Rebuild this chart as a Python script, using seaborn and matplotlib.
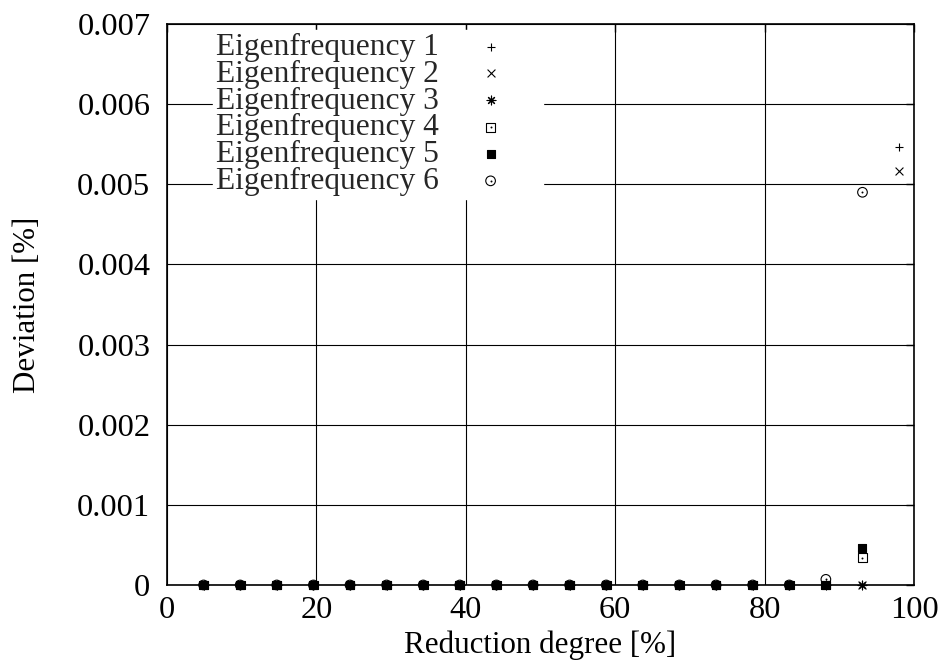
import numpy as np
import matplotlib
matplotlib.use("Agg")
import matplotlib.pyplot as plt
import seaborn as sns
import pandas as pd
from matplotlib.legend_handler import HandlerTuple

# reduction degree [%]
reduction = [4.9, 9.8, 14.7, 19.6, 24.5, 29.4, 34.3, 39.2, 44.1, 49.0,
             53.9, 58.8, 63.7, 68.6, 73.5, 78.4, 83.3, 88.2, 93.1, 98.0]

nan = np.nan
zeros17 = [0.0] * 17
ef1 = zeros17 + [0.0, 0.0, 0.00546]
ef2 = zeros17 + [0.0, 0.0, 0.00517]
ef3 = zeros17 + [0.0, 0.0, nan]
ef4 = zeros17 + [0.0, 0.00034, nan]
ef5 = zeros17 + [0.0, 0.00046, nan]
ef6 = zeros17 + [0.00007, 0.0049, nan]

labels = ["Eigenfrequency 1", "Eigenfrequency 2", "Eigenfrequency 3",
          "Eigenfrequency 4", "Eigenfrequency 5", "Eigenfrequency 6"]
series = [ef1, ef2, ef3, ef4, ef5, ef6]

x_ticks = [0, 20, 40, 60, 80, 100]
y_ticks = [0, 0.001, 0.002, 0.003, 0.004, 0.005, 0.006, 0.007]
y_tick_labels = ["0", "0.001", "0.002", "0.003", "0.004", "0.005", "0.006", "0.007"]

sns.set_theme(style="white")
plt.rcParams['font.family'] = ['Liberation Serif', 'DejaVu Serif']

fig = plt.figure(figsize=(9.46, 6.68), dpi=100)
ax = fig.add_axes([0.1765, 0.1243, 0.7897, 0.8398])

# marker styles (gnuplot-like point types)
styles = [
    dict(marker="+", s=40, linewidths=0.8),
    dict(marker="x", s=32, linewidths=0.8),
    dict(marker=(8, 2, 0), s=40, linewidths=0.8),
    dict(marker="s", s=40, linewidths=0.8, facecolor="none"),
    dict(marker="s", s=40, linewidths=0.8),
    dict(marker="o", s=48, linewidths=0.8, facecolor="none"),
]
has_dot = [False, False, False, True, False, True]

handles = []
for lab, vals, st, dot in zip(labels, series, styles, has_dot):
    df = pd.DataFrame({"x": reduction, "y": vals}).dropna()
    n0 = len(ax.collections)
    sns.scatterplot(data=df, x="x", y="y", color="black", edgecolor="black",
                    clip_on=False, zorder=5, ax=ax, **st)
    h = ax.collections[n0]
    if dot:
        sns.scatterplot(data=df, x="x", y="y", color="black", edgecolor="black",
                        marker="o", s=2, linewidths=0, clip_on=False, zorder=5, ax=ax)
        h = (h, ax.collections[n0 + 1])
    handles.append(h)

ax.set_xlim(0, 100)
ax.set_ylim(0, 0.007)
ax.set_xticks(x_ticks)
ax.set_xticklabels([str(t) for t in x_ticks])
ax.set_yticks(y_ticks)
ax.set_yticklabels(y_tick_labels)
ax.tick_params(direction="in", length=6, width=1, labelsize=23.3, top=True, right=True,
               colors="black")
ax.tick_params(axis="y", pad=12)
ax.tick_params(axis="x", pad=8)
ax.grid(True, color="black", linewidth=0.8)
for sp in ax.spines.values():
    sp.set_color("black")
    sp.set_linewidth(1.2)

ax.set_xlabel("Reduction degree [%]", fontsize=22.3, color="black", labelpad=4)
ax.set_ylabel("Deviation [%]", fontsize=22.3, color="black", labelpad=25)

leg = ax.legend(handles, labels, handler_map={tuple: HandlerTuple(ndivide=1)},
                loc="upper left", bbox_to_anchor=(0.061, 0.99), markerfirst=False,
                fontsize=22.7, frameon=True, framealpha=1, facecolor="white",
                edgecolor="white", fancybox=False, labelspacing=-0.07,
                handletextpad=0.1, borderpad=0.1, handlelength=3.1,
                borderaxespad=0)
leg.set_zorder(4)

fig.savefig("out.png", dpi=100)
